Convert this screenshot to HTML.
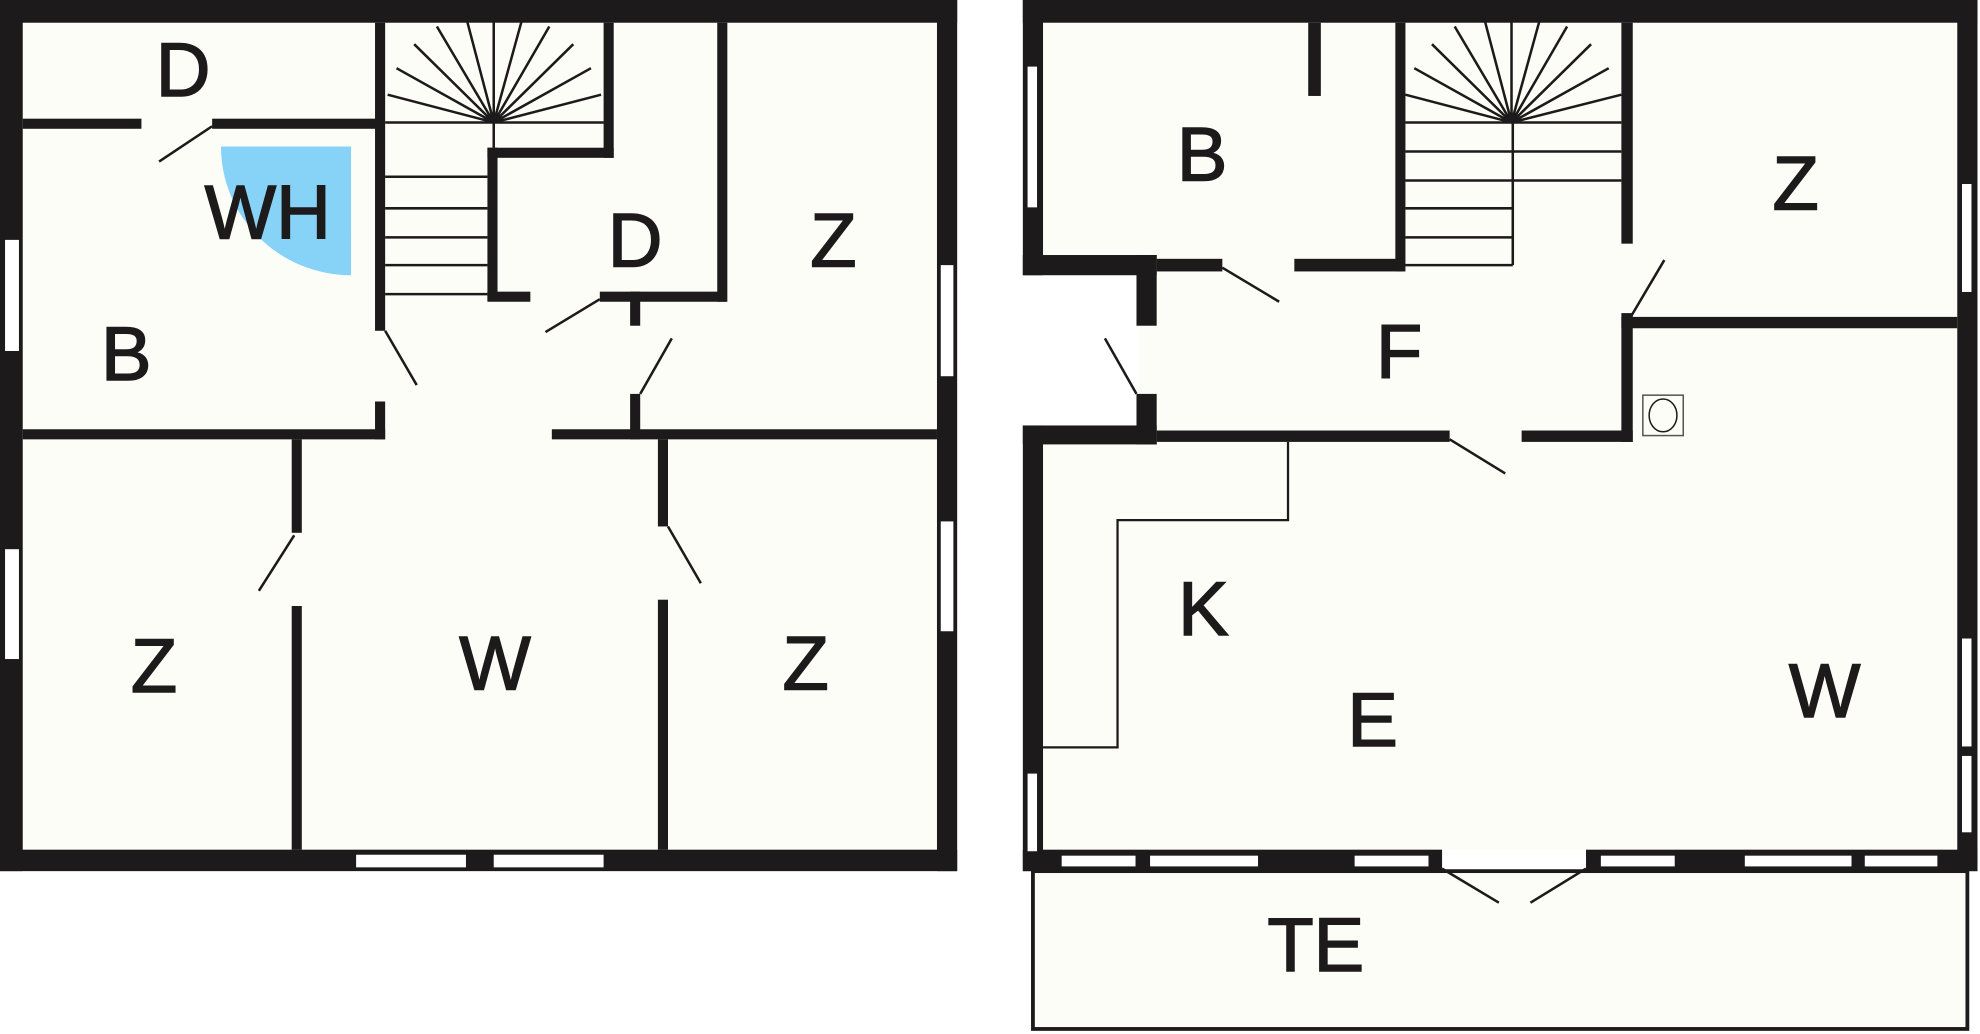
<!DOCTYPE html>
<html><head><meta charset="utf-8"><style>
html,body{margin:0;padding:0;background:#fff;}
svg{display:block;}
text{font-family:"Liberation Sans",sans-serif;font-size:60px;fill:#1c1a1a;stroke:#1c1a1a;stroke-width:1.2;text-anchor:middle;}
</style></head><body>
<svg width="1980" height="1034" viewBox="0 0 1568 819" preserveAspectRatio="none" xmlns="http://www.w3.org/2000/svg">
<rect width="1568" height="819" fill="#fff"/>
<!-- LEFT PLAN -->
<rect x="0" y="0" width="758" height="690" fill="#fdfdf8"/>
<g fill="#1c1a1a">
<rect x="0" y="0" width="758" height="18"/>
<rect x="0" y="0" width="18" height="690"/>
<rect x="742" y="0" width="16" height="690"/>
<rect x="0" y="673" width="758" height="17"/>
<rect x="18" y="94" width="94" height="8"/>
<rect x="168" y="94" width="132" height="8"/>
<rect x="297" y="18" width="8" height="244"/>
<rect x="297" y="318" width="8" height="30"/>
<rect x="478" y="18" width="8" height="107"/>
<rect x="386" y="117" width="100" height="8"/>
<rect x="386" y="117" width="8" height="121"/>
<rect x="386" y="231" width="34" height="8"/>
<rect x="475" y="231" width="100" height="8"/>
<rect x="568" y="18" width="8" height="221"/>
<rect x="499" y="231" width="8" height="27"/>
<rect x="499" y="312" width="8" height="36"/>
<rect x="18" y="340" width="287" height="8"/>
<rect x="437" y="340" width="305" height="8"/>
<rect x="231" y="348" width="8" height="74"/>
<rect x="231" y="480" width="8" height="193"/>
<rect x="521" y="348" width="8" height="69"/>
<rect x="521" y="475" width="8" height="198"/>
</g>
<g fill="#fff">
<rect x="4" y="190" width="11" height="88"/>
<rect x="4" y="435" width="11" height="87"/>
<rect x="745" y="210" width="10" height="88"/>
<rect x="745" y="413" width="10" height="87"/>
<rect x="282" y="677" width="87" height="10"/>
<rect x="391" y="677" width="87" height="10"/>
</g>
<path d="M278 116 L175 116 A103 102 0 0 0 278 218 Z" fill="#87d3f8"/>
<g stroke="#1c1a1a" stroke-width="2" fill="none">
<path d="M391 97 L307 75 M391 97 L314 54 M391 97 L328 35 M391 97 L346 21 M391 97 L370 17 M391 97 L391 17 M391 97 L413 17 M391 97 L435 21 M391 97 L454 35 M391 97 L468 54 M391 97 L476 75"/>
<path d="M305 97 H478 M391 97 V117 M305 140 H386 M305 165 H386 M305 188 H386 M305 210 H386 M305 233 H386"/>
<path d="M168 100 L126 128 M305 262 L330 305 M475 237 L432 263 M507 312 L532 268 M233 424 L205 468 M529 417 L555 462"/>
</g>
<g>
<text x="145" y="76">D</text>
<text x="212" y="189">WH</text>
<text x="100" y="301">B</text>
<text x="503" y="211">D</text>
<text x="660" y="211">Z</text>
<text x="122" y="548">Z</text>
<text x="392" y="546">W</text>
<text x="638" y="546">Z</text>
</g>

<!-- RIGHT PLAN -->
<rect x="826" y="18" width="724" height="655" fill="#fdfdf8"/>
<rect x="810" y="218" width="92" height="120" fill="#fff"/>
<rect x="818" y="690" width="740" height="125" fill="#fdfdf8" stroke="#1c1a1a" stroke-width="3"/>
<g fill="#1c1a1a">
<rect x="810" y="0" width="756" height="18"/>
<rect x="810" y="0" width="16" height="218"/>
<rect x="810" y="202" width="106" height="16"/>
<rect x="900" y="202" width="16" height="56"/>
<rect x="900" y="312" width="16" height="40"/>
<rect x="810" y="337" width="106" height="15"/>
<rect x="810" y="337" width="16" height="353"/>
<rect x="1550" y="0" width="16" height="690"/>
<rect x="810" y="673" width="332" height="17"/>
<rect x="1256" y="673" width="310" height="17"/>
<rect x="916" y="205" width="52" height="10"/>
<rect x="1025" y="205" width="87" height="10"/>
<rect x="1105" y="18" width="8" height="197"/>
<rect x="1036" y="18" width="10" height="58"/>
<rect x="1284" y="18" width="9" height="175"/>
<rect x="1284" y="248" width="9" height="102"/>
<rect x="1284" y="251" width="266" height="9"/>
<rect x="916" y="341" width="232" height="9"/>
<rect x="1205" y="341" width="88" height="9"/>
</g>
<g fill="#fff" stroke="#1c1a1a" stroke-width="1.5">
<rect x="813" y="52" width="9" height="113"/>
<rect x="813" y="612" width="9" height="63"/>
<rect x="1553" y="145" width="9" height="87"/>
<rect x="1553" y="505" width="9" height="87"/>
<rect x="1553" y="598" width="9" height="62"/>
<rect x="840" y="677" width="60" height="10"/>
<rect x="910" y="677" width="87" height="10"/>
<rect x="1072" y="677" width="60" height="10"/>
<rect x="1267" y="677" width="60" height="10"/>
<rect x="1381" y="677" width="86" height="10"/>
<rect x="1476" y="677" width="59" height="10"/>
</g>
<g stroke="#1c1a1a" stroke-width="2" fill="none">
<path d="M1197 97 L1113 75 M1197 97 L1120 54 M1197 97 L1134 35 M1197 97 L1152 21 M1197 97 L1176 17 M1197 97 L1197 17 M1197 97 L1219 17 M1197 97 L1241 21 M1197 97 L1260 35 M1197 97 L1274 54 M1197 97 L1284 75"/>
<path d="M1113 97 H1284 M1113 120 H1284 M1113 143 H1284 M1198 97 V210 M1113 165 H1198 M1113 188 H1198 M1113 210 H1198"/>
<path d="M968 212 L1013 239 M900 312 L875 268 M1292 250 L1318 206 M1148 348 L1192 375 M1142 688 L1187 715 M1256 688 L1212 715"/>
</g>
<path d="M1020 350 V412 H885 V592 H826" stroke="#1c1a1a" stroke-width="1.8" fill="none"/>
<rect x="1301" y="313" width="32" height="32" fill="#fdfdf8" stroke="#555" stroke-width="1.2"/>
<ellipse cx="1317" cy="329" rx="11" ry="13" fill="none" stroke="#1c1a1a" stroke-width="1.2"/>
<g>
<text x="952" y="143">B</text>
<text x="1422" y="166">Z</text>
<text x="1108" y="299">F</text>
<text x="953" y="503">K</text>
<text x="1087" y="591">E</text>
<text x="1445" y="568">W</text>
<text x="1042" y="769">TE</text>
</g>
</svg>
</body></html>
